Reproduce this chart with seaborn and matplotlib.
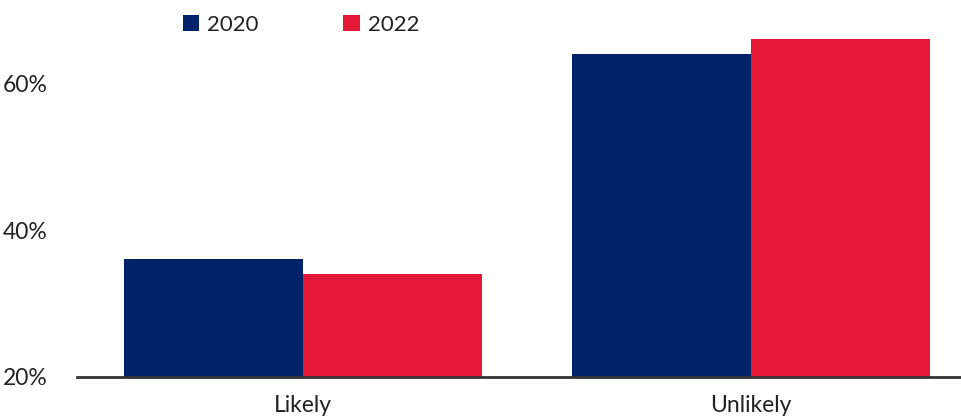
import matplotlib
matplotlib.use("Agg")
import matplotlib.pyplot as plt
import pandas as pd
import seaborn as sns

categories = ["Likely", "Unlikely"]
years = ["2020", "2022"]
values_2020 = [36, 64]
values_2022 = [34, 66]
yticks = [20, 40, 60]
ytick_labels = ["20%", "40%", "60%"]

NAVY = "#012169"
RED = "#E31937"

df = pd.DataFrame({
    "category": categories * 2,
    "year": [years[0]] * 2 + [years[1]] * 2,
    "value": values_2020 + values_2022,
})

sns.set_theme(style="white")
plt.rcParams["font.family"] = ["Lato", "DejaVu Sans"]

fig = plt.figure(figsize=(9.62, 4.2), dpi=100)
ax = fig.add_axes([0.080, 0.1024, 0.920, 0.8976])

sns.barplot(data=df, x="category", y="value", hue="year", order=categories,
            hue_order=years, palette=[NAVY, RED], width=0.8, saturation=1,
            errorbar=None, ax=ax, linewidth=0)

# bars start at the 20% baseline, not zero
ax.set_ylim(20, 71.3)
ax.set_xlim(-0.504, 1.471)
ax.set_yticks(yticks)
ax.set_yticklabels(ytick_labels)
ax.tick_params(axis="both", length=0, labelsize=16.5, colors="#222222")
ax.tick_params(axis="y", pad=21)
ax.tick_params(axis="x", pad=13)
ax.set_xlabel("")
ax.set_ylabel("")
for s in ["top", "right", "left"]:
    ax.spines[s].set_visible(False)
ax.spines["bottom"].set_color("#333333")
ax.spines["bottom"].set_linewidth(2)

handles, labels = ax.get_legend_handles_labels()
ax.legend(handles, labels, loc="upper left", bbox_to_anchor=(0.183, 0.98),
          bbox_transform=fig.transFigure, ncol=2, frameon=False,
          fontsize=16, handlelength=0.75, handleheight=0.75, handletextpad=0.35,
          columnspacing=3.8, labelcolor="#222222", borderaxespad=0,
          borderpad=0.3)

fig.savefig("out.png", dpi=100)
